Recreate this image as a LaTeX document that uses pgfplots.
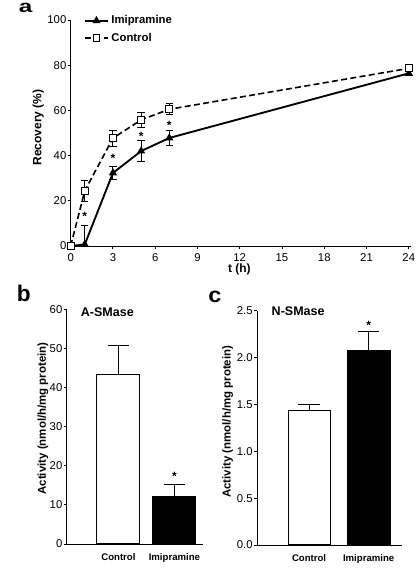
\documentclass[border=0pt]{standalone}
\usepackage{fontspec}
\setmainfont{Liberation Sans}
\usepackage{pgfplots}
\pgfplotsset{compat=1.18}
\pgfplotsset{
  myaxis/.style={
    scale only axis, anchor=south west,
    axis x line*=bottom, axis y line*=left,
    axis line style={-, line width=0.7pt, black},
    tick style={line width=0.7pt, black},
    tick align=outside,
    major tick length=2.25pt,
    /pgf/number format/assume math mode=true,
    tick label style={font=\fontsize{8.5}{10}\selectfont},
    yticklabel style={inner xsep=0.8pt},
    label style={font=\bfseries\fontsize{9}{11}\selectfont},
    clip=false,
  },
  barplot/.style={ybar, bar shift=0pt, draw=black, line width=0.8pt,
    error bars/.cd, y dir=plus, y explicit,
    error bar style={line width=0.8pt, black},
    error mark options={rotate=90, mark size=8pt, line width=0.8pt, black}},
}
\begin{document}
\begin{tikzpicture}
\useasboundingbox (0,0) rectangle (313.5pt,435.75pt);
% ---------------- panel a
\begin{axis}[myaxis, at={(53.0pt,251.25pt)}, width=255.6pt, height=169.5pt,
  xmin=0, xmax=24.19, ymin=0, ymax=100,
  xtick={0,3,...,24}, ytick={0,20,...,100},
  xlabel={t (h)}, ylabel={Recovery (\%)},
  xlabel style={at={(axis description cs:0.495,-0.104)}, anchor=center},
  ylabel style={at={(axis description cs:-0.095,0.524)}, anchor=center},
  legend cell align=left,
  legend style={at={(0.027,1.044)}, anchor=north west, draw=none, fill=none,
    font=\bfseries\fontsize{8.5}{10}\selectfont, row sep=1.5pt},
]
\addplot[black, line width=1.4pt, mark=triangle*, mark size=2.2pt, mark options={solid},
  error bars/.cd, y dir=both, y explicit, error bar style={line width=0.7pt, solid},
  error mark options={rotate=90, mark size=2.8pt, line width=0.7pt}]
  coordinates {(0,0) +- (0,0) (1,0.7) += (0,8.3) -= (0,0.7) (3,32.3) +- (0,3.0)
    (5,42.0) +- (0,4.7) (7,47.8) +- (0,3.2) (24,76.4) +- (0,1.0)};
\addlegendentry{Imipramine}
\addplot[black, line width=1.2pt, dash pattern=on 4.5pt off 2.5pt, mark=square*, mark size=2.6pt,
  mark options={solid, fill=white, line width=0.7pt},
  error bars/.cd, y dir=both, y explicit, error bar style={line width=0.7pt, solid},
  error mark options={rotate=90, mark size=2.8pt, line width=0.7pt}]
  coordinates {(0,0) +- (0,0) (1,24.4) +- (0,4.6) (3,47.7) +- (0,3.5)
    (5,55.8) +- (0,3.3) (7,60.5) +- (0,2.4) (24,78.6) +- (0,1.5)};
\addlegendentry{Control}
\node[font=\bfseries\fontsize{9}{10}\selectfont, yshift=-2pt] at (axis cs:1,14.5) {*};
\node[font=\bfseries\fontsize{9}{10}\selectfont, yshift=-2pt] at (axis cs:3,39.8) {*};
\node[font=\bfseries\fontsize{9}{10}\selectfont, yshift=-2pt] at (axis cs:5,49.9) {*};
\node[font=\bfseries\fontsize{9}{10}\selectfont, yshift=-2pt] at (axis cs:7,54.6) {*};
\end{axis}
% ---------------- panel b
\begin{axis}[myaxis, at={(50.0pt,27.75pt)}, width=102.2pt, height=176pt,
  xmin=0.075, xmax=2.51, ymin=0, ymax=60,
  ytick={0,10,...,60}, xtick={1,2}, xticklabels={Control,Imipramine},
  x tick style={draw=none},
  x tick label style={font=\bfseries\fontsize{7.2}{9}\selectfont, yshift=-1pt},
  ylabel={Activity (nmol/h/mg protein)},
  ylabel style={font=\bfseries\fontsize{8.6}{10}\selectfont, at={(axis description cs:-0.174,0.535)}, anchor=center},
]
\addplot[fill=white, bar width=32.25pt, barplot] coordinates {(1,43.3) +- (0,7.4)};
\addplot[fill=black, bar width=32.25pt, barplot] coordinates {(2,12.1) +- (0,3.2)};
\node[anchor=west, font=\bfseries\fontsize{9.4}{11}\selectfont] at (rel axis cs:0.07,0.9885) {A-SMase};
\node[font=\bfseries\fontsize{9}{10}\selectfont, yshift=-2pt] at (axis cs:2,17.9) {*};
\end{axis}
% ---------------- panel c
\begin{axis}[myaxis, at={(192.75pt,27pt)}, width=108.75pt, height=175.7pt,
  xmin=0.126, xmax=2.56, ymin=0, ymax=2.5,
  ytick={0,0.5,...,2.5}, xtick={1,2}, xticklabels={Control,Imipramine},
  yticklabel style={/pgf/number format/.cd, fixed, fixed zerofill, precision=1},
  x tick style={draw=none},
  x tick label style={font=\bfseries\fontsize{7.2}{9}\selectfont, yshift=-1pt},
  ylabel={Activity (nmol/h/mg protein)},
  ylabel style={font=\bfseries\fontsize{8.6}{10}\selectfont, at={(axis description cs:-0.202,0.526)}, anchor=center},
]
\addplot[fill=white, bar width=31.5pt, barplot] coordinates {(1,1.433) +- (0,0.067)};
\addplot[fill=black, bar width=32pt, barplot] coordinates {(2,2.07) +- (0,0.206)};
\node[anchor=west, font=\bfseries\fontsize{9.4}{11}\selectfont] at (rel axis cs:0.069,1.0) {N-SMase};
\node[font=\bfseries\fontsize{9}{10}\selectfont, yshift=-2pt] at (axis cs:2,2.37) {*};
\end{axis}
% ---------------- panel letters
\node[anchor=base west, inner sep=0pt, font=\bfseries\fontsize{13}{14}\selectfont, xscale=1.4] at (13.8pt,426.0pt) {a};
\node[anchor=base west, inner sep=0pt, font=\bfseries\fontsize{17}{18}\selectfont] at (12.5pt,209.5pt) {b};
\node[anchor=base west, inner sep=0pt, font=\bfseries\fontsize{16}{17}\selectfont, xscale=1.1] at (156pt,208.5pt) {c};
\end{tikzpicture}
\end{document}
